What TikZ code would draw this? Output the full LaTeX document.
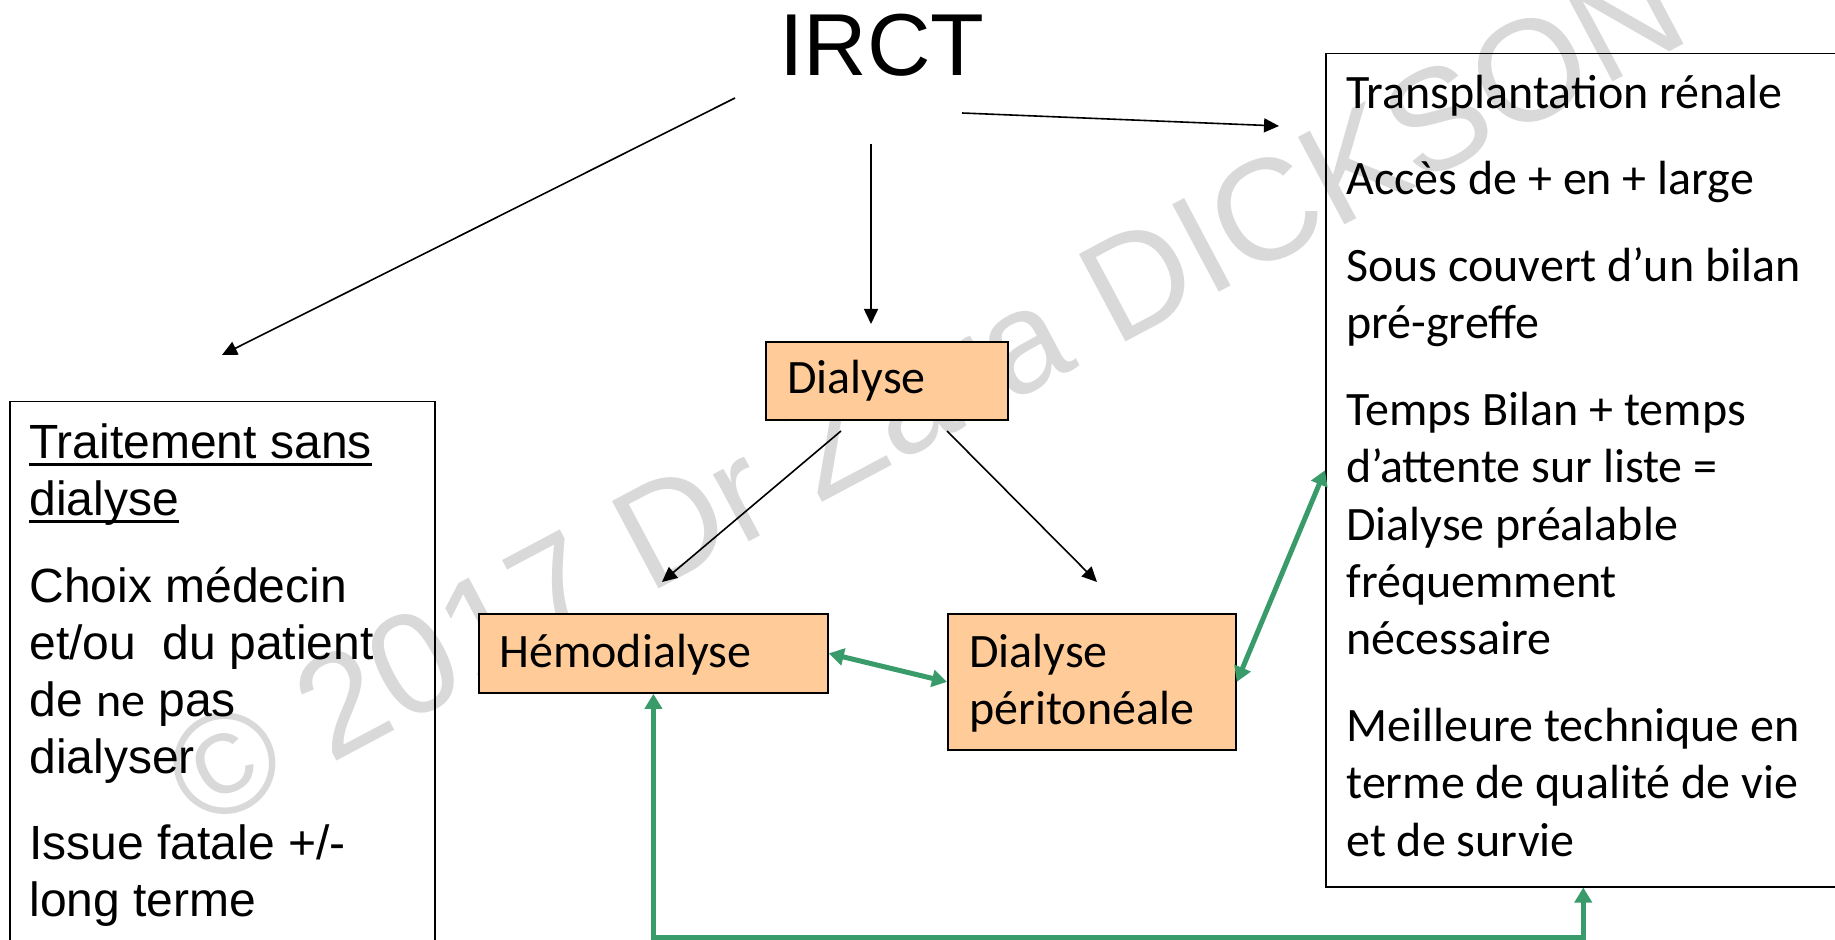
\documentclass[tikz,border=0pt]{standalone}
\usepackage{fontspec}
\setmainfont{Liberation Sans}
\newfontfamily\calib{Carlito}
\newfontfamily\arialf{Liberation Sans}
\usetikzlibrary{arrows.meta,calc}
\definecolor{peach}{RGB}{255,204,153}
\definecolor{dgreen}{RGB}{57,155,106}
\definecolor{wmgray}{RGB}{217,217,217}
\newcommand\myul[1]{\setbox0\hbox{#1}\rlap{\rule[-3.4pt]{\wd0}{1.2pt}}\box0}
\begin{document}
\begin{tikzpicture}[x=0.5pt,y=-0.5pt,
  ln/.style={anchor=base west, inner sep=0pt, font=\arialf\fontsize{24}{28.8}\selectfont},
  rn/.style={anchor=base west, inner sep=0pt, font=\calib\fontsize{24}{28.8}\selectfont},
  pbox/.style={draw=black, line width=0.9pt, fill=peach, anchor=north west, inner sep=0pt},
  wbox/.style={draw=black, line width=0.75pt, anchor=north west, inner sep=0pt},
  blk/.style={draw=black, line width=0.8pt, -{Triangle[length=7.5pt,width=7pt]}},
  grn/.style={draw=dgreen, line width=2.5pt, {Triangle[length=7.5pt,width=8.5pt]}-{Triangle[length=7.5pt,width=8.5pt]}},
]
\useasboundingbox (0,0) rectangle (1835,940);
\clip (0,0) rectangle (1835,940);

% watermark
\node[font=\arialf\fontsize{72}{80}\selectfont, text=wmgray, rotate=28, inner sep=0pt] (wm) at (925,392) {© 2017 Dr Zara DICKSON};

% title
\node[anchor=base, inner sep=0pt, font=\arialf\fontsize{44}{50}\selectfont] (irct) at (882,76) {IRCT};

% boxes
\node[wbox, minimum width=212.5pt, minimum height=280pt] (lbox) at (9,401) {};
\node[wbox, minimum width=257.5pt, minimum height=416.5pt] (rbox) at (1325,53) {};
\node[pbox, minimum width=121pt, minimum height=39pt] (dial) at (765,341) {};
\node[pbox, minimum width=174.5pt, minimum height=39.5pt] (hemo) at (478,613) {};
\node[pbox, minimum width=144pt, minimum height=68pt] (dp) at (947,613) {};

% peach box texts
\node[rn] (tdial) at (787,394) {Dialyse};
\node[rn] (themo) at (499,667) {Hémodialyse};
\node[rn] (tdp1) at (969,667) {Dialyse};
\node[rn] (tdp2) at (969,724) {péritonéale};

% left box text
\node[ln] (l1) at (29,459) {\myul{Traitement sans}};
\node[ln] (l2) at (29,516) {\myul{dialyse}};
\node[ln] (l3) at (29,602) {Choix médecin};
\node[ln] (l4) at (29,659) {et/ou~ du patient};
\node[ln] (l5) at (29,716) {de {\calib ne} pas};
\node[ln] (l6) at (29,773) {dialyser};
\node[ln] (l7) at (29,859) {Issue fatale +/-};
\node[ln] (l8) at (29,916) {long terme};

% right box text
\node[rn] (r1) at (1346,108.6) {Transplantation rénale};
\node[rn] (r2) at (1346,195) {Accès de + en + large};
\node[rn] (r3) at (1346,281.4) {Sous couvert d’un bilan};
\node[rn] (r4) at (1346,338.8) {pré-greffe};
\node[rn] (r5) at (1346,425.2) {Temps Bilan + temps};
\node[rn] (r6) at (1346,482.6) {d’attente sur liste =};
\node[rn] (r7) at (1346,540) {Dialyse préalable};
\node[rn] (r8) at (1346,597.4) {fréquemment};
\node[rn] (r9) at (1346,654.8) {nécessaire};
\node[rn] (r10) at (1346,741.2) {Meilleure technique en};
\node[rn] (r11) at (1346,798.6) {terme de qualité de vie};
\node[rn] (r12) at (1346,856) {et de survie};

% black arrows
\coordinate (a1s) at (735,98);  \coordinate (a1e) at (222,355);
\coordinate (a2s) at (871,144); \coordinate (a2e) at (871,324);
\coordinate (a3s) at (962,113); \coordinate (a3e) at (1279,126);
\coordinate (a4s) at (841,431); \coordinate (a4e) at (662,582);
\coordinate (a5s) at (947,431); \coordinate (a5e) at (1097,582);
\draw[blk] (a1s) -- (a1e);
\draw[blk] (a2s) -- (a2e);
\draw[blk] (a3s) -- (a3e);
\draw[blk] (a4s) -- (a4e);
\draw[blk] (a5s) -- (a5e);

% green arrows
\draw[grn] (hemo.east) -- (dp.west);
\draw[grn] (dp.east) -- (rbox.west);
\draw[grn] (hemo.south) -- ++(0,243.5) -| (rbox.south);
\end{tikzpicture}
\end{document}
